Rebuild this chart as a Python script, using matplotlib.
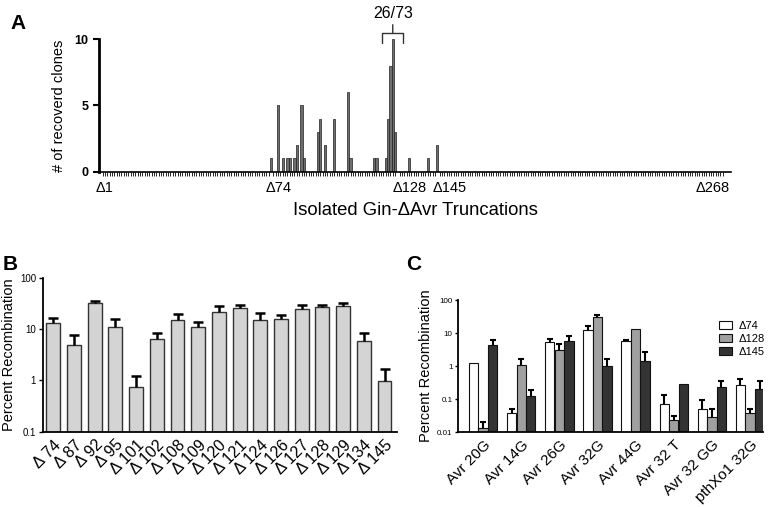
import numpy as np
import matplotlib
matplotlib.use("Agg")
import matplotlib.pyplot as plt
from matplotlib.transforms import ScaledTranslation

plt.rcParams['font.family'] = ['Liberation Sans', 'DejaVu Sans']

# panel A: clones recovered per truncation
a_pos = [74, 77, 79, 81, 82, 84, 85, 87, 88, 94, 95, 97, 101, 107, 108,
         118, 119, 123, 124, 125, 126, 127, 133, 141, 145]
a_counts = [1, 5, 1, 1, 1, 1, 2, 5, 1, 3, 4, 2, 4, 6, 1,
            1, 1, 1, 4, 8, 10, 3, 1, 1, 2]
a_ticks = [1, 74, 128, 145, 268]
a_ticklabels = ['Δ1', 'Δ74', 'Δ128', 'Δ145', 'Δ268']

# panel B: percent recombination of each truncation
b_labels = ['Δ 74', 'Δ 87', 'Δ 92', 'Δ 95', 'Δ 101', 'Δ 102', 'Δ 108', 'Δ 109',
            'Δ 120', 'Δ 121', 'Δ 124', 'Δ 126', 'Δ 127', 'Δ 128', 'Δ 129',
            'Δ 134', 'Δ 145']
b_mean = [12.9, 4.95, 32, 11.1, 0.73, 6.5, 15, 11.1, 21.1, 26, 15, 15.9,
          24.9, 27.2, 28.5, 5.9, 0.99]
b_err = [3.8, 2.55, 3.6, 4.3, 0.5, 1.9, 4.6, 2.6, 6.6, 3.8, 5.5, 3.1,
         4.4, 2.6, 3.1, 2.3, 0.7]

# panel C: target sites
c_groups = ['Avr 20G', 'Avr 14G', 'Avr 26G', 'Avr 32G', 'Avr 44G',
            'Avr 32 T', 'Avr 32 GG', 'pthXo1 32G']
d74 = [1.29, 0.039, 5.6, 12.9, 5.86, 0.069, 0.049, 0.27]
d74_err = [0, 0.012, 1.1, 3.8, 0.55, 0.063, 0.042, 0.124]
d128 = [0.0129, 1.12, 3.2, 32, 13.2, 0.023, 0.0285, 0.039]
d128_err = [0.0067, 0.51, 1.66, 3.9, 0, 0.0075, 0.0225, 0.012]
d145 = [4.3, 0.123, 5.7, 1.0, 1.48, 0.28, 0.226, 0.205]
d145_err = [1.8, 0.06, 2.8, 0.7, 1.17, 0, 0.117, 0.138]
c_series = ['Δ74', 'Δ128', 'Δ145']
c_colors = ['#ffffff', '#a0a0a0', '#333333']


def up_errorbar(ax, x, y, err, lw, cap):
    x = np.asarray(x, float)
    y = np.asarray(y, float)
    err = np.asarray(err, float)
    keep = err > 0
    if not keep.any():
        return
    line, caps, bars = ax.errorbar(x[keep], y[keep],
                                   yerr=[np.zeros(keep.sum()), err[keep]],
                                   fmt='none', ecolor='black', elinewidth=lw,
                                   capsize=cap, capthick=lw, zorder=3)
    caps[0].set_visible(False)  # only the upper cap


fig = plt.figure(figsize=(7.7, 5.07), dpi=100)

# ---- A
axA = fig.add_axes([0.1286, 0.6613, 0.8208, 0.2617])
axA.bar(a_pos, a_counts, width=1.0, color='#6e6e6e', edgecolor='#222222',
        linewidth=0.5, zorder=2)
axA.set_xlim(0.45, 270.6)
axA.set_ylim(0, 10)
axA.set_yticks([0, 5, 10])
axA.set_yticklabels(['0', '5', '10'], fontweight='bold', fontsize=9)
axA.set_xticks(a_ticks)
axA.set_xticklabels(a_ticklabels, fontsize=10.5)
axA.set_xticks(np.arange(1, 269), minor=True)
axA.tick_params(axis='x', which='major', length=0, pad=7)
axA.tick_params(axis='x', which='minor', length=3, width=0.6, direction='out')
axA.tick_params(axis='y', length=4, width=1.5)
# the delta sign sits over its position, the last label ends at the axis
for i, lab in enumerate(axA.get_xticklabels()):
    if i == len(a_ticks) - 1:
        lab.set_ha('right')
        dx = 5
    else:
        lab.set_ha('left')
        dx = -5
    lab.set_transform(lab.get_transform() + ScaledTranslation(dx / 100, 0, fig.dpi_scale_trans))
for s in ['top', 'right']:
    axA.spines[s].set_visible(False)
axA.spines['left'].set_linewidth(2)
axA.spines['bottom'].set_linewidth(1.2)
axA.set_ylabel('# of recoverd clones', fontsize=10.5)
axA.yaxis.set_label_coords(-0.052, 0.5)
axA.set_xlabel('Isolated Gin-ΔAvr Truncations', fontsize=13.3, labelpad=5)
axA.annotate('26/73', xy=(126, 10.45), xytext=(0, 9), textcoords='offset points',
             ha='center', va='bottom', fontsize=11.5, annotation_clip=False,
             arrowprops=dict(arrowstyle='-[, widthB=0.66, lengthB=0.6',
                             lw=1, color='#333333', shrinkA=1, shrinkB=0))

# ---- B
axB = fig.add_axes([0.0558, 0.1485, 0.4597, 0.3037])
xb = np.arange(len(b_labels))
axB.bar(xb, b_mean, width=0.67, color='#d4d4d4', edgecolor='#333333',
        linewidth=1, zorder=2)
up_errorbar(axB, xb, b_mean, b_err, 1.8, 3.5)
axB.set_yscale('log')
axB.set_ylim(0.1, 100)
axB.set_xlim(-0.5, 16.6)
axB.set_yticks([0.1, 1, 10, 100])
axB.set_yticklabels(['0.1', '1', '10', '100'], fontsize=7)
axB.yaxis.set_minor_locator(matplotlib.ticker.NullLocator())
axB.set_xticks(xb)
axB.set_xticklabels(b_labels, rotation=45, ha='right', rotation_mode='anchor',
                    fontsize=11.5)
axB.tick_params(axis='x', length=0, pad=4)
axB.tick_params(axis='y', length=3, width=1, pad=2)
for s in ['top', 'right']:
    axB.spines[s].set_visible(False)
axB.spines['left'].set_linewidth(1.3)
axB.spines['bottom'].set_linewidth(1.3)
axB.set_ylabel('Percent Recombination', fontsize=10.5)
axB.yaxis.set_label_coords(-0.075, 0.5)

# ---- C
axC = fig.add_axes([0.5952, 0.1479, 0.3957, 0.2598])
xc = np.arange(len(c_groups))
w = 0.245
for k, (vals, errs) in enumerate([(d74, d74_err), (d128, d128_err), (d145, d145_err)]):
    off = (k - 1) * 0.25
    axC.bar(xc + off, vals, width=w, color=c_colors[k], edgecolor='#111111',
            linewidth=0.8, zorder=2, label=c_series[k])
    up_errorbar(axC, xc + off, vals, errs, 1.5, 2.5)
axC.set_yscale('log')
axC.set_ylim(0.01, 100)
axC.set_xlim(-0.65, 7.34)
axC.set_yticks([0.01, 0.1, 1, 10, 100])
axC.set_yticklabels(['0.01', '0.1', '1', '10', '100'], fontsize=5.8)
axC.yaxis.set_minor_locator(matplotlib.ticker.NullLocator())
axC.set_xticks(xc)
axC.set_xticklabels(c_groups, rotation=45, ha='right', rotation_mode='anchor',
                    fontsize=11)
axC.tick_params(axis='x', length=0, pad=4)
axC.tick_params(axis='y', length=2.5, width=1, pad=1.5)
for s in ['top', 'right']:
    axC.spines[s].set_visible(False)
axC.spines['left'].set_linewidth(1.3)
axC.spines['bottom'].set_linewidth(1.3)
axC.set_ylabel('Percent Recombination', fontsize=10.5)
axC.yaxis.set_label_coords(-0.082, 0.5)
axC.legend(loc='upper right', bbox_to_anchor=(1.04, 0.92), frameon=False,
           fontsize=8, handlelength=1.2, handleheight=0.8, labelspacing=0.25,
           handletextpad=0.6)

# panel letters
fig.text(0.013, 0.972, 'A', fontsize=15, fontweight='bold', va='top')
fig.text(0.004, 0.497, 'B', fontsize=15, fontweight='bold', va='top')
fig.text(0.528, 0.497, 'C', fontsize=15, fontweight='bold', va='top')

fig.savefig('out.png', dpi=100)
